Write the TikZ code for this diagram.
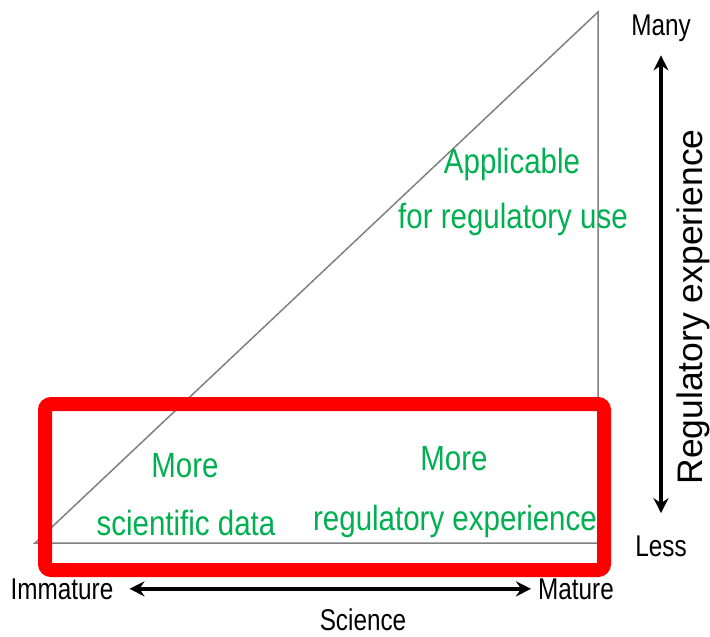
\documentclass[tikz,border=0pt]{standalone}
\usepackage{fontspec}
\setmainfont{Liberation Sans}
\usetikzlibrary{positioning,arrows.meta}
\tikzset{>={Stealth[length=15pt,width=15pt,inset=5pt]}}
\definecolor{leafgreen}{RGB}{0,176,80}

\begin{document}
\begin{tikzpicture}[x=1pt,y=-1pt,every node/.style={inner sep=0pt},
  greentxt/.style={text=leafgreen,font=\fontsize{35}{36}\selectfont,xscale=0.843,anchor=base},
  axistxt/.style={font=\fontsize{30}{31}\selectfont,xscale=0.81,anchor=base}]
\useasboundingbox (0,0) rectangle (710,637);
\coordinate (O) at (35,543);
\coordinate (P) at (598,543);
\coordinate (Q) at (598,12);
\draw[gray,line width=1.5] (O) -- (P) -- (Q) -- cycle;
\node[greentxt] (app) at (512,173) {Applicable};
\node[greentxt] (use) at (513,228) {for regulatory use};
\node[greentxt] (more1) at (185,477) {More};
\node[greentxt] (sci) at (186,535) {scientific data};
\node[greentxt] (more2) at (454,470) {More};
\node[greentxt] (exp) at (455,530) {regulatory experience};
\draw[red,line width=14,rounded corners=6] (45,404) rectangle (604,570);
\node[axistxt] (many) at (661,35) {Many};
\node[axistxt] (less) at (661,556) {Less};
\node[axistxt] (imm) at (62,599) {Immature};
\node[axistxt] (mat) at (576,599) {Mature};
\node[axistxt] (sc) at (363,630) {Science};
\node[font=\fontsize{35.5}{36}\selectfont,rotate=90] (reg) at (693,307) {Regulatory experience};
\draw[<->,line width=4,shorten <=14,shorten >=22] (many) -- (less);
\draw[<->,line width=4,shorten <=16,shorten >=7] (imm) -- (mat);
\end{tikzpicture}
\end{document}
